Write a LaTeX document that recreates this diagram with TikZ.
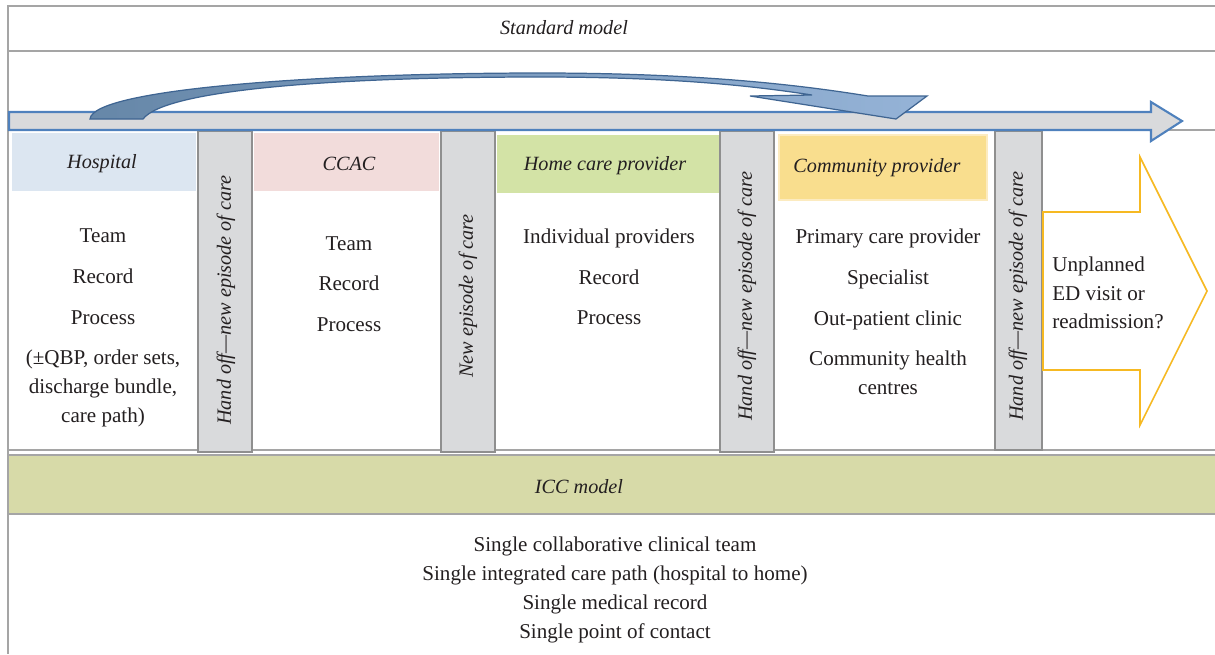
\documentclass[tikz,border=0pt]{standalone}
\usepackage{fontspec}
\setmainfont{Liberation Serif}

\definecolor{framegray}{HTML}{A5A5A5}
\definecolor{sepgray}{HTML}{D9DADC}
\definecolor{sepline}{HTML}{8F8F8F}
\definecolor{flowblue}{HTML}{4F81BD}
\definecolor{curvedark}{HTML}{6687A8}
\definecolor{curvelight}{HTML}{95B3D7}
\definecolor{curveline}{HTML}{3F6592}
\definecolor{hospblue}{HTML}{DCE6F1}
\definecolor{ccacpink}{HTML}{F2DCDB}
\definecolor{homegreen}{HTML}{D3E3A6}
\definecolor{commyellow}{HTML}{F9DE8E}
\definecolor{commedge}{HTML}{FCEBC0}
\definecolor{edorange}{HTML}{F6B922}
\definecolor{iccolive}{HTML}{D7DAA8}
\definecolor{inktext}{HTML}{231F20}

\tikzset{
	bodytext/.style={font=\fontsize{12}{16.4}\selectfont, text=inktext, align=center, inner sep=0pt},
	headtext/.style={font=\fontsize{11.5}{14}\selectfont\itshape, text=inktext, inner sep=0pt},
	septext/.style={headtext, rotate=90},
	sepbar/.style={fill=sepgray, draw=sepline, line width=0.8pt},
	frameline/.style={draw=framegray, line width=0.9pt},
}

\begin{document}
\begin{tikzpicture}[x=0.02cm, y=-0.02cm]
			%%%%% FRAME %%%%%
			\useasboundingbox (0, 0) rectangle (1215, 654);
			
			\draw[frameline] (1215, 6) -- (8, 6) -- (8, 654);
			\draw[frameline] (8, 51) -- (1215, 51);
			\draw[frameline] (8, 130) -- (1215, 130);
			\draw[frameline] (8, 450) -- (1215, 450);
			
			\node[headtext] (stdmodel) at (564, 28) {Standard model};
			
			%%%%% HEADER BOXES %%%%%
			\fill[hospblue] (12, 133) rectangle (196, 191);
			\fill[ccacpink] (254, 133) rectangle (439, 191);
			\fill[homegreen] (497, 135) rectangle (719, 193);
			\draw[fill=commyellow, draw=commedge, line width=0.8pt] (779, 135) rectangle (987, 200);
			
			%%%%% HAND-OFF BARS %%%%%
			\draw[sepbar] (198, 131) rectangle (252, 452);
			\draw[sepbar] (441, 131) rectangle (495, 452);
			\draw[sepbar] (720, 131) rectangle (774, 452);
			\draw[sepbar] (995, 131) rectangle (1042, 450);
			
			%%%%% FLOW ARROW %%%%%
			\draw[draw=flowblue, fill=sepgray, line width=1.2pt]
				(9, 112) -- (1151, 112) -- (1151, 102) -- (1182, 121) -- (1151, 141) -- (1151, 130) -- (9, 130) -- cycle;
			
			% curved arrow jumping over the middle
			\path[draw=curveline, line width=0.7pt, left color=curvedark, right color=curvelight]
				(90, 119) .. controls (93, 88) and (330, 73) .. (540, 73)
				.. controls (700, 73) and (800, 85) .. (868, 96)
				-- (927, 96) -- (896, 119) -- (750, 96) -- (812, 95)
				.. controls (760, 87) and (680, 77) .. (540, 77)
				.. controls (330, 77) and (165, 90) .. (143, 119) -- cycle;
			
			%%%%% ED ARROW %%%%%
			\draw[draw=edorange, fill=white, line width=0.9pt]
				(1043, 212) -- (1140, 212) -- (1140, 157) -- (1207, 291) -- (1140, 425) -- (1140, 370) -- (1043, 370) -- cycle;
			
			%%%%% TEXTS %%%%%
			\node[headtext] (hosp) at (102, 164) {Hospital};
			\node[headtext] (ccac) at (349, 164) {CCAC};
			\node[headtext] (home) at (605, 166) {Home care provider};
			\node[headtext] (comm) at (877, 168) {Community provider};
			
			\node[bodytext] (hosplist) at (103, 328) {Team\\[6.8pt] Record\\[6.8pt] Process\\[6.8pt] (±QBP, order sets,\\ discharge bundle,\\ care path)};
			\node[bodytext] (ccaclist) at (349, 284) {Team\\[6.8pt] Record\\[6.8pt] Process};
			\node[bodytext] (homelist) at (609, 277) {Individual providers\\[6.8pt] Record\\[6.8pt] Process};
			\node[bodytext] (commlist) at (888, 312) {Primary care provider\\[6.8pt] Specialist\\[6.8pt] Out-patient clinic\\[6.8pt] Community health\\ centres};
			\node[bodytext, align=left, anchor=west] (edvisit) at (1052, 293) {Unplanned\\ ED visit or\\ readmission?};
			
			\node[septext] (handoff1) at (226, 300) {Hand off—new episode of care};
			\node[septext] (newep) at (468, 296) {New episode of care};
			\node[septext] (handoff2) at (747, 296) {Hand off—new episode of care};
			\node[septext] (handoff3) at (1018, 296) {Hand off—new episode of care};
			
			%%%%% ICC MODEL %%%%%
			\fill[iccolive] (8, 455) rectangle (1215, 514);
			\draw[frameline] (1215, 455) -- (8, 455) -- (8, 514) -- (1215, 514);
			\node[headtext] (iccmodel) at (579, 487) {ICC model};
			
			\node[bodytext] (icclist) at (615, 590) {Single collaborative clinical team\\ Single integrated care path (hospital to home)\\ Single medical record\\ Single point of contact};
			
			%%%%% END %%%%%
\end{tikzpicture}
\end{document}
